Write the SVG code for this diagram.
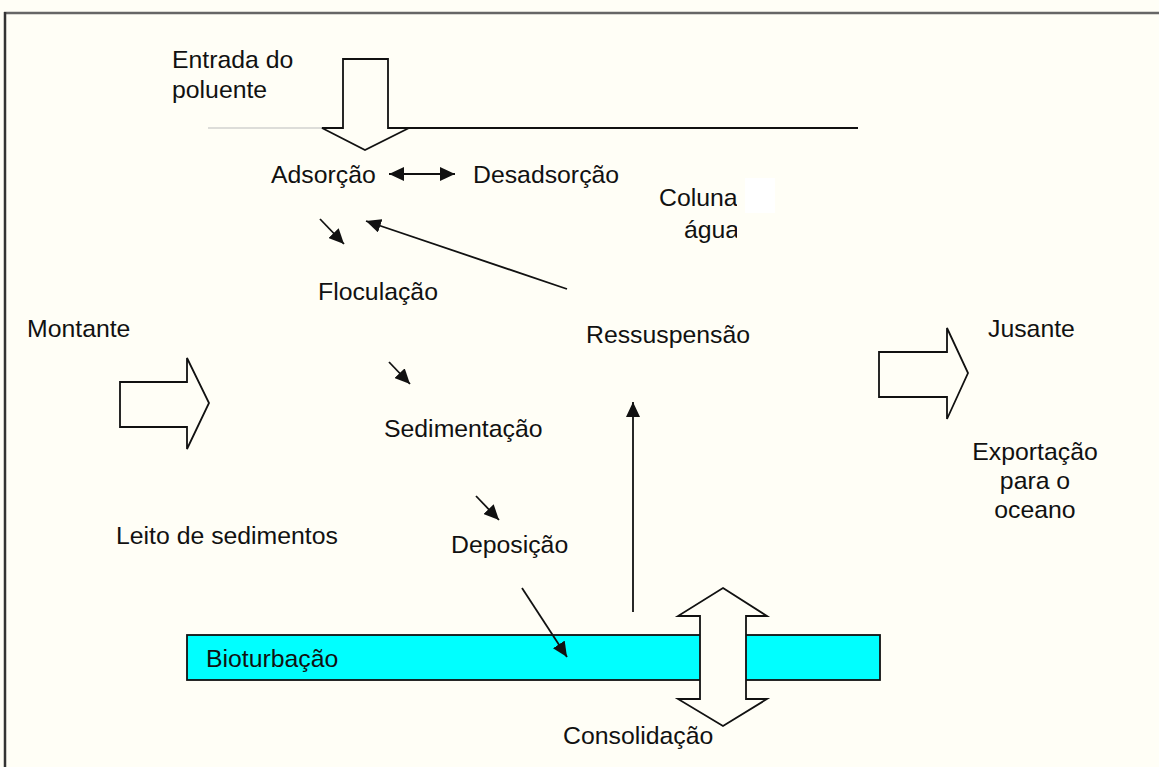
<svg xmlns="http://www.w3.org/2000/svg" width="1159" height="767" viewBox="0 0 1159 767">
<defs>
<style>
text{font-family:"Liberation Sans",Arial,sans-serif;font-size:24.8px;fill:#111;}
.ln{stroke:#111;stroke-width:1.8;fill:none;}
.big{fill:#fffef6;stroke:#111;stroke-width:1.8;stroke-linejoin:miter;}
</style>
<marker id="ah" markerWidth="16" markerHeight="14" refX="15" refY="7" orient="auto-start-reverse" markerUnits="userSpaceOnUse">
<path d="M0,0 L15,7 L0,14 Z" fill="#111"/>
</marker>
<clipPath id="clipCol"><rect x="600" y="170" width="137" height="80"/></clipPath>
</defs>
<rect x="0" y="0" width="1159" height="767" fill="#fffef6"/>
<line x1="4" y1="13" x2="1159" y2="13" stroke="#666" stroke-width="2.5"/>
<line x1="5" y1="12" x2="5" y2="767" stroke="#333" stroke-width="2.5"/>

<g id="water-line">
<line x1="208" y1="128" x2="322" y2="128" stroke="#bbb" stroke-width="1.2"/>
<line x1="409" y1="128" x2="858" y2="128" stroke="#111" stroke-width="1.8"/>
</g>

<g id="entrada-arrow">
<path class="big" d="M343,59 L388,59 L388,128 L409,128 L365,150 L322,128 L343,128 Z"/>
</g>
<g id="entrada"><text x="172" y="68">Entrada do</text><text x="172" y="98">poluente</text></g>
<g id="adsorcao"><text x="271" y="183">Adsorção</text></g>
<g id="desadsorcao"><text x="473" y="183">Desadsorção</text></g>
<g id="coluna">
<g clip-path="url(#clipCol)"><text x="659" y="206">Coluna</text><text x="684" y="238">água</text></g>
<rect x="745" y="178" width="30" height="35" fill="#ffffff"/>
</g>
<g id="floculacao"><text x="318" y="300">Floculação</text></g>
<g id="sedimentacao"><text x="384" y="437">Sedimentação</text></g>
<g id="deposicao"><text x="451" y="553">Deposição</text></g>
<g id="ressuspensao"><text x="586" y="343">Ressuspensão</text></g>
<g id="montante"><text x="27" y="337">Montante</text></g>
<g id="jusante"><text x="988" y="337">Jusante</text></g>
<g id="exportacao" text-anchor="middle"><text x="1035" y="460">Exportação</text><text x="1035" y="489">para o</text><text x="1035" y="518">oceano</text></g>
<g id="leito"><text x="116" y="544">Leito de sedimentos</text></g>

<g id="montante-arrow"><path class="big" d="M120,382 L187,382 L187,358 L209,403 L187,449 L187,427 L120,427 Z"/></g>
<g id="jusante-arrow"><path class="big" d="M879,352 L947,352 L947,328 L968,373 L947,419 L947,397 L879,397 Z"/></g>

<g id="bioturbacao">
<rect x="187" y="635" width="693" height="45" fill="#00ffff" stroke="#111" stroke-width="1.8"/>
<text x="206" y="667">Bioturbação</text>
</g>

<g id="consolidacao-arrow">
<path class="big" d="M723,588 L767,616 L746,616 L746,699 L767,699 L723,726 L678,699 L700,699 L700,616 L678,616 Z"/>
</g>
<g id="consolidacao"><text x="563" y="744">Consolidação</text></g>

<g id="connectors">
<line class="ln" x1="389" y1="174" x2="455" y2="174" marker-start="url(#ah)" marker-end="url(#ah)"/>
<line class="ln" x1="320" y1="219" x2="344" y2="244" marker-end="url(#ah)"/>
<line class="ln" x1="567" y1="289" x2="366" y2="221" marker-end="url(#ah)"/>
<line class="ln" x1="389" y1="362" x2="410" y2="384" marker-end="url(#ah)"/>
<line class="ln" x1="476" y1="496" x2="499" y2="520" marker-end="url(#ah)"/>
<line class="ln" x1="522" y1="588" x2="567" y2="657" marker-end="url(#ah)"/>
<line class="ln" x1="633" y1="612" x2="633" y2="402" marker-end="url(#ah)"/>
</g>
</svg>
